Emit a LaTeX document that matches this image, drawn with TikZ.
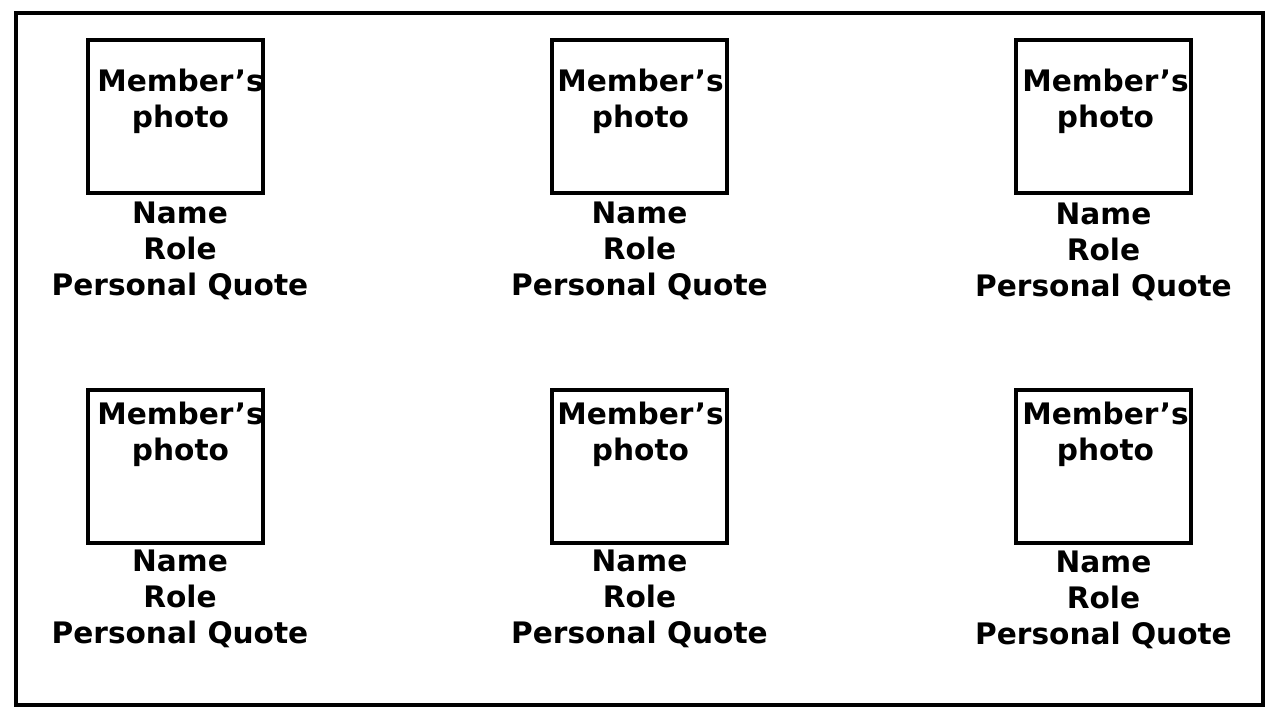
\documentclass[tikz,border=0pt]{standalone}
\usepackage{fontspec}
\setmainfont{DejaVu Sans}
\usetikzlibrary{positioning}

\begin{document}
\begin{tikzpicture}[x=0.5pt, y=-0.5pt, node distance=3.5pt]
    % Define the styles for the photo boxes and the texts
    \tikzstyle{photobox} = [rectangle, draw, line width=2pt, minimum width=87.5pt, minimum height=76.5pt, inner sep=0pt]
    \tikzstyle{caption} = [align=center, font=\bfseries\fontsize{14.8}{18}\selectfont, inner sep=0pt]

    \useasboundingbox (0,0) rectangle (1280,720);

    % Outer frame
    \draw [line width=2pt] (16,13) rectangle (1263,705);

    % Create the photo boxes, first row
    \node [photobox] (photo1) at (175.5,116.5) {};
    \node [photobox] (photo2) at (639.5,116.5) {};
    \node [photobox] (photo3) at (1103.5,116.5) {};

    % Create the photo boxes, second row
    \node [photobox] (photo4) at (175.5,466) {};
    \node [photobox] (photo5) at (639.5,466) {};
    \node [photobox] (photo6) at (1103.5,466) {};

    % Add the captions inside the boxes
    \node [caption, below=15.5pt of photo1.north, xshift=2.5pt] (cap1) {Member’s\\photo};
    \node [caption, below=15.5pt of photo2.north, xshift=0.5pt] (cap2) {Member’s\\photo};
    \node [caption, below=15.5pt of photo3.north, xshift=1pt] (cap3) {Member’s\\photo};
    \node [caption, below=7pt of photo4.north, xshift=2.5pt] (cap4) {Member’s\\photo};
    \node [caption, below=7pt of photo5.north, xshift=0.5pt] (cap5) {Member’s\\photo};
    \node [caption, below=7pt of photo6.north, xshift=1pt] (cap6) {Member’s\\photo};

    % Add the member details under the boxes
    \node [caption, below=of photo1, xshift=2.25pt] (info1) {Name\\Role\\Personal Quote};
    \node [caption, below=of photo2] (info2) {Name\\Role\\Personal Quote};
    \node [caption, below=4pt of photo3] (info3) {Name\\Role\\Personal Quote};
    \node [caption, below=2.5pt of photo4, xshift=2.25pt] (info4) {Name\\Role\\Personal Quote};
    \node [caption, below=2.5pt of photo5] (info5) {Name\\Role\\Personal Quote};
    \node [caption, below=3pt of photo6] (info6) {Name\\Role\\Personal Quote};
\end{tikzpicture}
\end{document}
